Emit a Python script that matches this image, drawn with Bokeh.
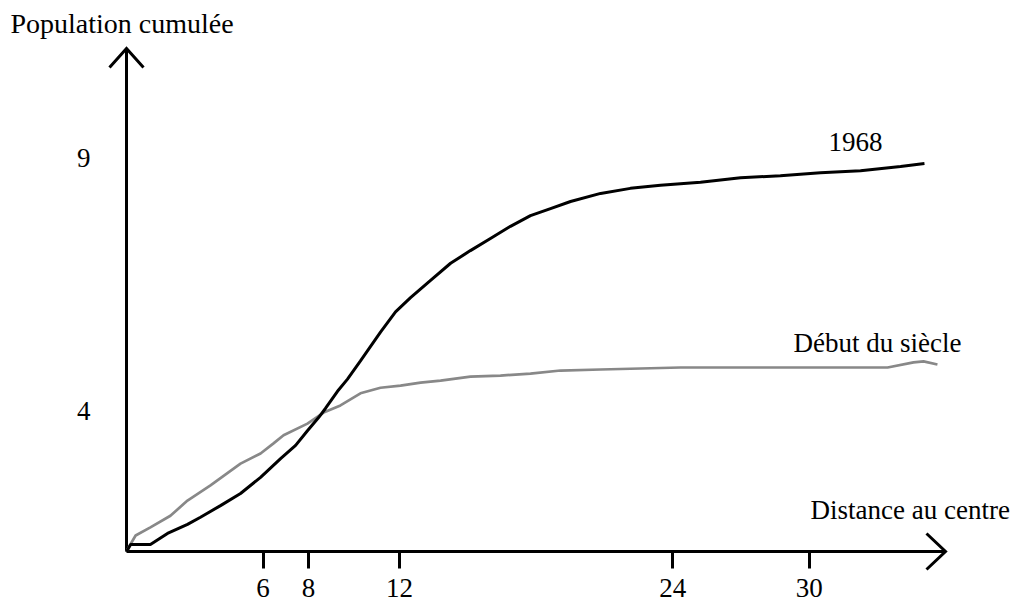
from bokeh.plotting import figure
from bokeh.models import FixedTicker, Range1d
from bokeh.embed import file_html
from bokeh.resources import INLINE
from bokeh.core.properties import value

# ---------------- data ----------------
dist_1968 = [0, 0.18, 1.05, 1.80, 2.68, 3.25, 4.13, 5.01, 5.89, 6.77, 7.43, 7.95,
             8.44, 8.74, 9.27, 9.71, 10.28, 11.16, 11.82, 12.48, 13.36, 14.24,
             15.11, 15.99, 16.87, 17.75, 18.63, 19.51, 20.83, 22.14, 23.46, 25.22,
             26.98, 28.73, 30.49, 32.25, 34.01, 35.06]
pop_1968 = [1.21, 1.35, 1.35, 1.57, 1.75, 1.89, 2.12, 2.36, 2.68, 3.05, 3.31, 3.60,
            3.86, 4.04, 4.38, 4.62, 4.98, 5.55, 5.95, 6.23, 6.57, 6.91,
            7.16, 7.40, 7.64, 7.85, 7.99, 8.13, 8.29, 8.39, 8.45, 8.51,
            8.60, 8.64, 8.70, 8.74, 8.82, 8.88]

dist_debut = [0, 0.09, 0.40, 1.05, 1.93, 2.68, 3.69, 5.01, 5.89, 6.46, 6.90, 7.95,
              8.66, 9.40, 10.28, 11.16, 12.04, 12.92, 13.80, 15.11, 16.43, 17.75,
              19.07, 20.83, 24.34, 27.86, 33.44, 34.58, 35.02, 35.63]
pop_debut = [1.21, 1.29, 1.53, 1.69, 1.92, 2.22, 2.52, 2.95, 3.15, 3.35, 3.51, 3.74,
             3.96, 4.10, 4.34, 4.45, 4.49, 4.55, 4.59, 4.67, 4.69, 4.73,
             4.79, 4.81, 4.85, 4.85, 4.85, 4.95, 4.97, 4.91]

x_ticks = [6, 8, 12, 24, 30]
y_ticks = [4, 9]
series_labels = ["1968", "Début du siècle"]
x_title = "Distance au centre"
y_title = "Population cumulée"

# ---------------- geometry ----------------
W, H = 1018, 603
X0_PX = 126.0      # canvas px of distance 0
XS = 22.76         # px per distance unit
Y4_PX = 410.0      # canvas px of population 4
YS = 50.6          # px per population unit


def xd(cx):
    return (cx - X0_PX) / XS


def yd(cy):
    return 4 + (Y4_PX - cy) / YS


x_start, x_end = xd(0), xd(W)
y_start, y_end = yd(H), yd(0)
y0 = yd(551)       # baseline (x axis)

FONT = "Liberation Serif"
FS = "27px"
BLACK = "#000000"
GRAY = "#888888"

p = figure(width=W, height=H, x_range=Range1d(x_start, x_end),
           y_range=Range1d(y_start, y_end), output_backend="svg",
           toolbar_location=None, min_border=0, outline_line_color=None,
           background_fill_color="white", border_fill_color="white")
p.title.visible = False
p.grid.visible = False

# x axis (ticks + labels)
xa = p.xaxis[0]
xa.fixed_location = y0
xa.ticker = FixedTicker(ticks=x_ticks, minor_ticks=[])
xa.axis_line_color = None
xa.major_tick_out = 17
xa.major_tick_in = 0
xa.minor_tick_out = 0
xa.minor_tick_in = 0
xa.major_tick_line_width = 3
xa.major_tick_line_color = BLACK
xa.major_label_text_font = FONT
xa.major_label_text_font_size = FS
xa.major_label_text_color = BLACK
xa.major_label_standoff = 10

# y axis (labels only)
ya = p.yaxis[0]
ya.fixed_location = 0
ya.ticker = FixedTicker(ticks=y_ticks, minor_ticks=[])
ya.axis_line_color = None
ya.major_tick_out = 0
ya.major_tick_in = 0
ya.minor_tick_out = 0
ya.minor_tick_in = 0
ya.major_label_text_font = FONT
ya.major_label_text_font_size = FS
ya.major_label_text_color = BLACK
ya.major_label_standoff = 36

# axis lines with open arrow heads
x_tip = xd(945)
y_tip = yd(48)
p.line([0, x_tip], [y0, y0], line_color=BLACK, line_width=3)
p.line([x_tip - 19 / XS, x_tip, x_tip - 19 / XS],
       [y0 + 18 / YS, y0, y0 - 18 / YS], line_color=BLACK, line_width=3,
       line_join="miter")
p.line([0, 0], [y0, y_tip], line_color=BLACK, line_width=3)
p.line([-17 / XS, 0, 17 / XS], [y_tip - 19 / YS, y_tip, y_tip - 19 / YS],
       line_color=BLACK, line_width=3, line_join="miter")

# curves
p.line(dist_debut, pop_debut, line_color=GRAY, line_width=2.7)
p.line(dist_1968, pop_1968, line_color=BLACK, line_width=3)

# texts
p.text(x=[xd(855)], y=[yd(141)], text=[series_labels[0]], text_font=value(FONT),
       text_font_size=FS, text_color=BLACK, text_align="center",
       text_baseline="alphabetic")
p.text(x=[xd(793)], y=[yd(342)], text=[series_labels[1]], text_font=value(FONT),
       text_font_size=FS, text_color=BLACK, text_align="left",
       text_baseline="alphabetic")
p.text(x=[xd(810)], y=[yd(509)], text=[x_title], text_font=value(FONT),
       text_font_size=FS, text_color=BLACK, text_align="left",
       text_baseline="alphabetic")
p.text(x=[xd(10)], y=[yd(23)], text=[y_title], text_font=value(FONT),
       text_font_size="28px", text_color=BLACK, text_align="left",
       text_baseline="alphabetic")

open("out.html", "w").write(file_html(p, INLINE))
